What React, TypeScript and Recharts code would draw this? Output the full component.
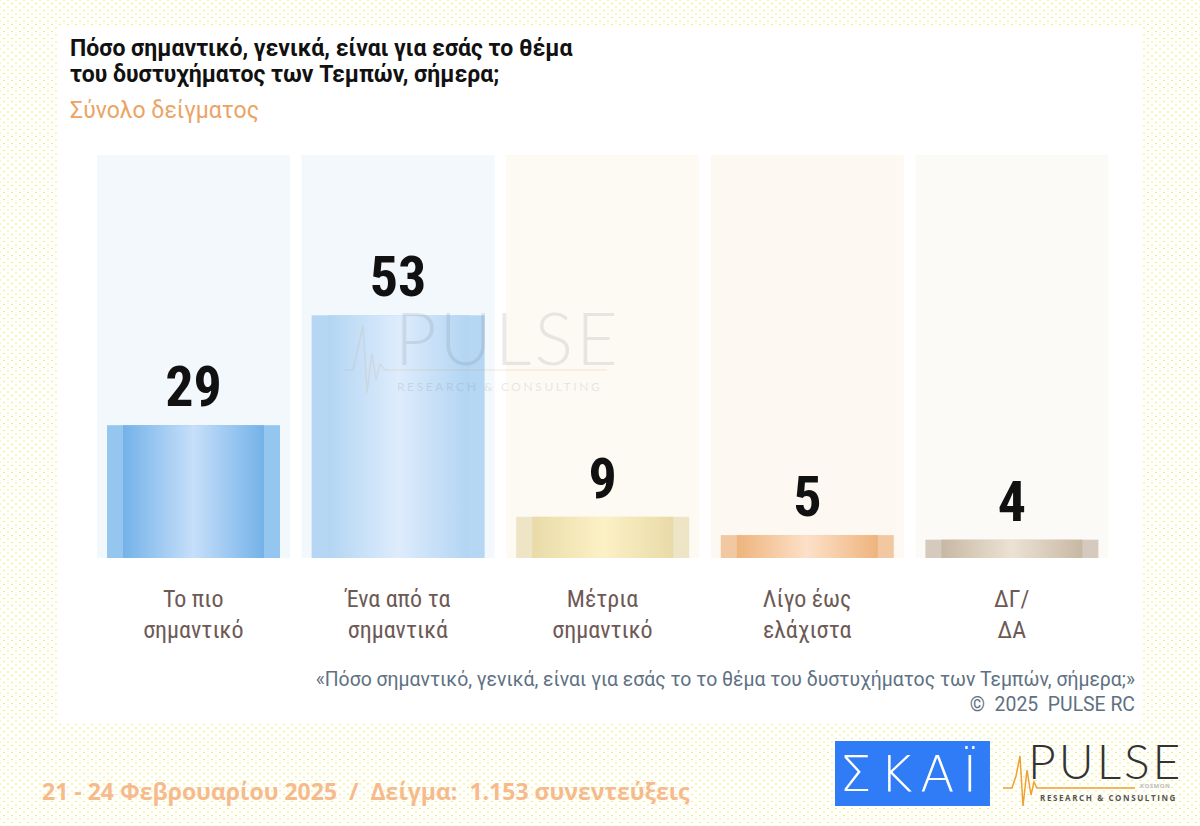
import { BarChart, Bar, XAxis, YAxis, LabelList } from "recharts";

const categories = [
  "Το πιο\nσημαντικό",
  "Ένα από τα\nσημαντικά",
  "Μέτρια\nσημαντικό",
  "Λίγο έως\nελάχιστα",
  "ΔΓ/\nΔΑ",
];
const values = [29, 53, 9, 5, 4];
const yMax = 88;

const title = ["Πόσο σημαντικό, γενικά, είναι για εσάς το θέμα", "του δυστυχήματος των Τεμπών, σήμερα;"];
const subtitle = "Σύνολο δείγματος";
const footnote = "«Πόσο σημαντικό, γενικά, είναι για εσάς το το θέμα του δυστυχήματος των Τεμπών, σήμερα;»";
const copyright = "©  2025  PULSE RC";
const fieldwork = "21 - 24 Φεβρουαρίου 2025  /  Δείγμα:  1.153 συνεντεύξεις";

// per-column styling
const trackColors = ["#f3f8fd", "#f3f8fd", "#fdfaf4", "#fdf8f2", "#fcfaf6"];
const barEdge = ["#94c6ef", "#b5d7f4", "#eee4c6", "#f2c8a2", "#d5cabd"];
const barDark = ["#74b2e8", "#b2d5f3", "#e9dba8", "#eeb47c", "#c7b8a3"];
const barLight = ["#c6dffa", "#deecfc", "#fcf1c6", "#fde0c9", "#ece2d3"];

const data = categories.map((name, i) => ({ name, value: values[i] }));

const NARROW = "'Liberation Sans Narrow', 'Roboto Condensed', 'DejaVu Sans Condensed', Roboto, sans-serif";
const ROBOTO = "Roboto, 'Noto Sans', sans-serif";

function Track(props: any) {
  const { x, y, width, height, index } = props;
  return <rect x={x} y={y} width={width} height={height} fill={trackColors[index]} />;
}

function GradientBar(props: any) {
  const { x, y, width, height, index } = props;
  if (height <= 0) return null;
  const id = `barGrad${index}`;
  return (
    <g>
      <defs>
        <linearGradient id={id} x1="0" y1="0" x2="1" y2="0">
          <stop offset="0%" stopColor={barDark[index]} />
          <stop offset="50%" stopColor={barLight[index]} />
          <stop offset="100%" stopColor={barDark[index]} />
        </linearGradient>
      </defs>
      <rect x={x + 10} y={y} width={width - 20} height={height} fill={barEdge[index]} />
      <rect x={x + 26} y={y} width={width - 52} height={height} fill={`url(#${id})`} />
    </g>
  );
}

function CategoryTick(props: any) {
  const { x, y, payload } = props;
  const lines = String(payload.value).split("\n");
  return (
    <text x={x} y={y} textAnchor="middle" fill="#6d5a55" fontSize={24} fontFamily={NARROW}>
      {lines.map((l, i) => (
        <tspan key={i} x={x} dy={i === 0 ? 49 : 31}>
          {l}
        </tspan>
      ))}
    </text>
  );
}

export default function App() {
  return (
    <div
      style={{
        position: "fixed",
        left: 0,
        top: 0,
        width: 1200,
        height: 826,
        overflow: "hidden",
        backgroundColor: "#fffffb",
        backgroundImage:
          "radial-gradient(circle, #f4e98a 0.8px, transparent 1.1px), radial-gradient(circle, #f4e98a 0.8px, transparent 1.1px)",
        backgroundSize: "8px 7px, 8px 7px",
        backgroundPosition: "0 0, 4px 3.5px",
        fontFamily: NARROW,
      }}
    >
      <div style={{ position: "absolute", left: 57, top: 27, width: 1085, height: 697, background: "#ffffff" }} />

      <div style={{ position: "absolute", left: 70, top: 36, fontSize: 23, fontWeight: "bold", color: "#111", lineHeight: "26px", fontFamily: ROBOTO, whiteSpace: "nowrap" }}>
        <div>{title[0]}</div>
        <div>{title[1]}</div>
      </div>
      <div style={{ position: "absolute", left: 70, top: 98, fontSize: 23, color: "#eba465", lineHeight: "26px", fontFamily: ROBOTO }}>{subtitle}</div>

      <div style={{ position: "absolute", left: 0, top: 0 }}>
        <BarChart width={1200} height={826} data={data} margin={{ top: 155, right: 86, left: 91, bottom: 188 }} barCategoryGap={6}>
          <XAxis dataKey="name" axisLine={false} tickLine={false} tickSize={0} tickMargin={0} height={80} interval={0} tick={<CategoryTick />} />
          <YAxis hide domain={[0, yMax]} />
          <Bar dataKey="value" isAnimationActive={false} background={(p: any) => <Track {...p} />} shape={(p: any) => <GradientBar {...p} />}>
            <LabelList
              dataKey="value"
              position="top"
              offset={19}
              style={{ fontSize: 56, fontWeight: "bold", fill: "#111", fontFamily: NARROW }}
            />
          </Bar>
        </BarChart>
      </div>

      {/* watermark */}
      <div style={{ position: "absolute", left: 345, top: 306, width: 280, height: 100, opacity: 0.12, pointerEvents: "none" }}>
        <svg width={280} height={100} style={{ position: "absolute", left: 0, top: 0 }}>
          <polyline points="0,64 8,64 13,42 18,20 22,87 27,47 31,74 35,58 40,64 262,64" fill="none" stroke="#c98a40" strokeWidth={1.5} />
        </svg>
        <div style={{ position: "absolute", left: 50, top: 0, fontSize: 72, fontWeight: 300, letterSpacing: 3, color: "#555", fontFamily: "Lato, 'Open Sans', sans-serif", lineHeight: "62px", whiteSpace: "nowrap" }}>PULSE</div>
        <div style={{ position: "absolute", left: 52, top: 74, fontSize: 12, letterSpacing: 2.6, color: "#555", fontFamily: "Lato, 'Open Sans', sans-serif", whiteSpace: "nowrap", lineHeight: "14px" }}>RESEARCH &amp; CONSULTING</div>
      </div>

      <div style={{ position: "absolute", right: 65, top: 667, textAlign: "right", color: "#5e7182", fontSize: 19.4, lineHeight: "25px", whiteSpace: "pre", fontFamily: ROBOTO }}>
        <div>{footnote}</div>
        <div>{copyright}</div>
      </div>

      <div style={{ position: "absolute", left: 42, top: 775, color: "#f6bb8c", fontSize: 23, fontWeight: "bold", whiteSpace: "pre", fontFamily: "'Open Sans', sans-serif" }}>
        {fieldwork}
      </div>

      {/* logos */}
      <div style={{ position: "absolute", left: 835, top: 741, width: 155, height: 65, background: "#2f7cf6", color: "#fff", display: "flex", alignItems: "center", justifyContent: "center", fontSize: 50, fontWeight: 300, letterSpacing: 8, fontFamily: "'DejaVu Sans', sans-serif" }}>
        ΣΚΑΪ
      </div>
      <div style={{ position: "absolute", left: 1000, top: 738, width: 200, height: 80 }}>
        <svg width={190} height={80} style={{ position: "absolute", left: 0, top: 0 }}>
          <polyline points="3,50 12,50 16,38 20,18 23,68 27,32 31,57 34,44 37,50 135,50" fill="none" stroke="#f0a030" strokeWidth={1.5} />
        </svg>
        <div style={{ position: "absolute", left: 28, top: 3, fontSize: 48, fontWeight: 300, letterSpacing: 3, color: "#333", fontFamily: "Lato, 'Open Sans', sans-serif", lineHeight: "40px" }}>PULSE</div>
        <div style={{ position: "absolute", left: 140, top: 45, fontSize: 6, fontWeight: "bold", letterSpacing: 0.5, color: "#bbb", fontFamily: "'Open Sans', sans-serif", lineHeight: "7px" }}>KOSMON</div>
        <div style={{ position: "absolute", left: 40, top: 55, fontSize: 8, fontWeight: "bold", letterSpacing: 1.6, color: "#555", fontFamily: "'Open Sans', sans-serif", whiteSpace: "pre", lineHeight: "10px" }}>RESEARCH &amp; CONSULTING</div>
      </div>
    </div>
  );
}
